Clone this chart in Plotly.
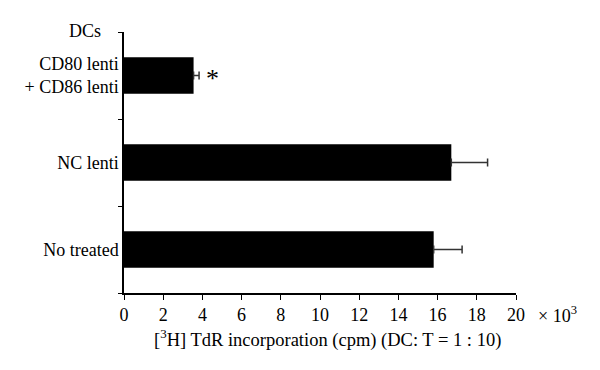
import plotly.graph_objects as go

categories = ["No treated", "NC lenti", "CD80 lenti<br>+ CD86 lenti"]
values = [15.8, 16.7, 3.55]
errors = [1.45, 1.85, 0.28]
x_ticks = [0, 2, 4, 6, 8, 10, 12, 14, 16, 18, 20]
font = "Liberation Serif"

fig = go.Figure()
fig.add_trace(go.Bar(
    x=values, y=categories, orientation="h",
    marker=dict(color="black", line=dict(width=0)),
    width=0.42,
    error_x=dict(type="data", array=errors, arrayminus=[0, 0, 0], symmetric=False,
                 color="#333333", thickness=1.5, width=4),
))

fig.update_layout(
    width=600, height=370,
    margin=dict(l=116, r=92, t=24, b=85),
    plot_bgcolor="white", paper_bgcolor="white",
    showlegend=False,
    font=dict(family=font, size=18, color="black"),
    xaxis=dict(range=[0, 20], tickvals=x_ticks, ticks="outside", ticklen=5,
               tickwidth=1.2, tickcolor="black", showline=True, linecolor="black",
               linewidth=1.5, showgrid=False, zeroline=False, automargin=False,
               tickfont=dict(size=18, family=font)),
    yaxis=dict(type="category", categoryorder="array", categoryarray=categories,
               tickson="boundaries", ticks="outside", ticklen=4, tickwidth=1.2,
               tickcolor="black", showline=True, linecolor="black", linewidth=1.5,
               showgrid=False, zeroline=False, automargin=False,
               tickfont=dict(size=18, family=font), range=[-0.5, 2.5]),
)

fig.add_annotation(text="DCs", xref="paper", yref="paper", x=-0.1, y=1.0,
                   xanchor="center", yanchor="bottom", yshift=-11, showarrow=False,
                   font=dict(size=18, family=font))
fig.add_annotation(text="*", xref="x", yref="y", x=4.5,
                   y=categories[2], xanchor="center", yanchor="middle", yshift=-3,
                   showarrow=False, font=dict(size=26, family=font))
fig.add_annotation(text="× 10<sup>3</sup>", xref="paper", yref="paper", x=1.05, y=-0.03,
                   xanchor="left", yanchor="top", showarrow=False,
                   font=dict(size=18, family=font))
fig.add_annotation(text="[<sup>3</sup>H] TdR incorporation (cpm) (DC: T = 1 : 10)",
                   xref="paper", yref="paper", x=0.52, y=-0.12,
                   xanchor="center", yanchor="top", showarrow=False,
                   font=dict(size=18.5, family=font))

fig.write_html("out.html")
